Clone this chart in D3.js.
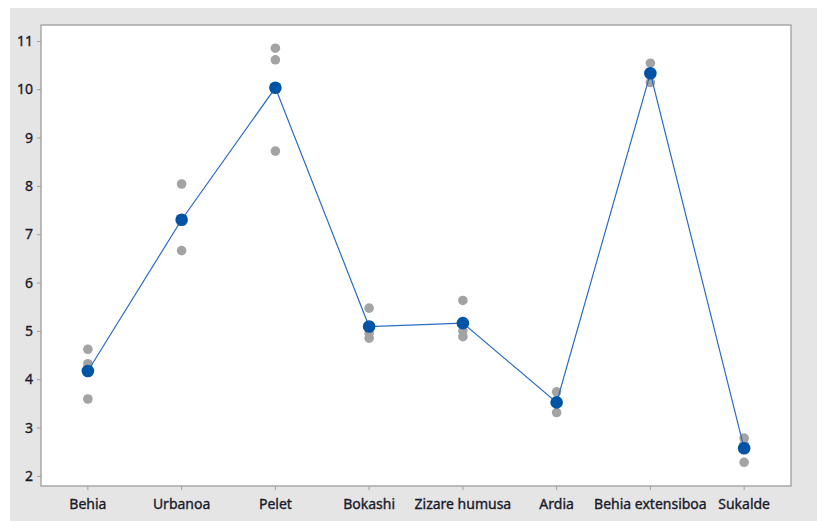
<!DOCTYPE html>
<html>
<head>
<meta charset="utf-8">
<script src="https://cdn.jsdelivr.net/npm/d3@7"></script>
<style>
  html, body { margin: 0; padding: 0; background: #ffffff; }
  svg { display: block; }
  .tick text { font-family: "Noto Sans", "Open Sans", sans-serif; font-size: 14px; font-weight: 400; fill: #1a1a2a; stroke: #1a1a2a; stroke-width: 0.35px; }
</style>
</head>
<body>
<svg id="chart" width="822" height="521"></svg>
<script>
// Treatment categories along the x axis
const categories = ["Behia", "Urbanoa", "Pelet", "Bokashi", "Zizare humusa", "Ardia", "Behia extensiboa", "Sukalde"];

// Individual replicate observations (three per treatment)
const rep1 = [4.62, 8.04, 10.85, 5.47, 5.63, 3.74, 10.54, 2.78];
const rep2 = [4.32, 7.28, 10.61, 4.95, 5.00, 3.50, 10.32, 2.65];
const rep3 = [3.59, 6.66, 8.72, 4.85, 4.88, 3.31, 10.14, 2.28];

// Treatment means
const means = [4.17, 7.30, 10.03, 5.09, 5.16, 3.52, 10.33, 2.57];

// Y axis tick values
const yTicks = [2, 3, 4, 5, 6, 7, 8, 9, 10, 11];

const svg = d3.select("#chart");
const W = 822, H = 521;
const margin = { left: 41, right: 31, top: 25, bottom: 35 };

// Panel background
svg.append("rect")
  .attr("x", 10).attr("y", 8)
  .attr("width", 807).attr("height", H - 8)
  .attr("fill", "#e5e5e5");

const x = d3.scaleBand()
  .domain(categories)
  .range([margin.left, W - margin.right])
  .paddingInner(0).paddingOuter(0);

const y = d3.scaleLinear()
  .domain([1.79, 11.33])
  .range([H - margin.bottom, margin.top]);

// Plot area
svg.append("rect")
  .attr("x", margin.left).attr("y", margin.top)
  .attr("width", W - margin.right - margin.left)
  .attr("height", H - margin.bottom - margin.top)
  .attr("fill", "#ffffff")
  .attr("stroke", "#a8a8a8")
  .attr("stroke-width", 1.5);

// Y axis
const yAxis = svg.append("g")
  .attr("transform", `translate(${margin.left},0)`)
  .call(d3.axisLeft(y).tickValues(yTicks).tickSize(4).tickPadding(4).tickFormat(d3.format("d")));
yAxis.select(".domain").remove();
yAxis.selectAll(".tick line").attr("stroke", "#a0a0a0");

// X axis
const xAxis = svg.append("g")
  .attr("transform", `translate(0,${H - margin.bottom})`)
  .call(d3.axisBottom(x).tickSize(4).tickPadding(9));
xAxis.select(".domain").remove();
xAxis.selectAll(".tick line").attr("stroke", "#a0a0a0");

const cx = c => x(c) + x.bandwidth() / 2;

// Individual observations in grey
const obs = [];
categories.forEach((c, i) => {
  [rep1, rep2, rep3].forEach(r => obs.push({ c, v: r[i] }));
});
svg.append("g")
  .selectAll("circle")
  .data(obs)
  .join("circle")
  .attr("cx", d => cx(d.c))
  .attr("cy", d => y(d.v))
  .attr("r", 4.8)
  .attr("fill", "#a3a3a3");

// Connecting line through the means
const meanData = categories.map((c, i) => ({ c, v: means[i] }));
svg.append("path")
  .datum(meanData)
  .attr("fill", "none")
  .attr("stroke", "#2a6cc4")
  .attr("stroke-width", 1.2)
  .attr("d", d3.line().x(d => cx(d.c)).y(d => y(d.v)));

// Mean markers
svg.append("g")
  .selectAll("circle")
  .data(meanData)
  .join("circle")
  .attr("cx", d => cx(d.c))
  .attr("cy", d => y(d.v))
  .attr("r", 6.3)
  .attr("fill", "#0054a6");
</script>
</body>
</html>
